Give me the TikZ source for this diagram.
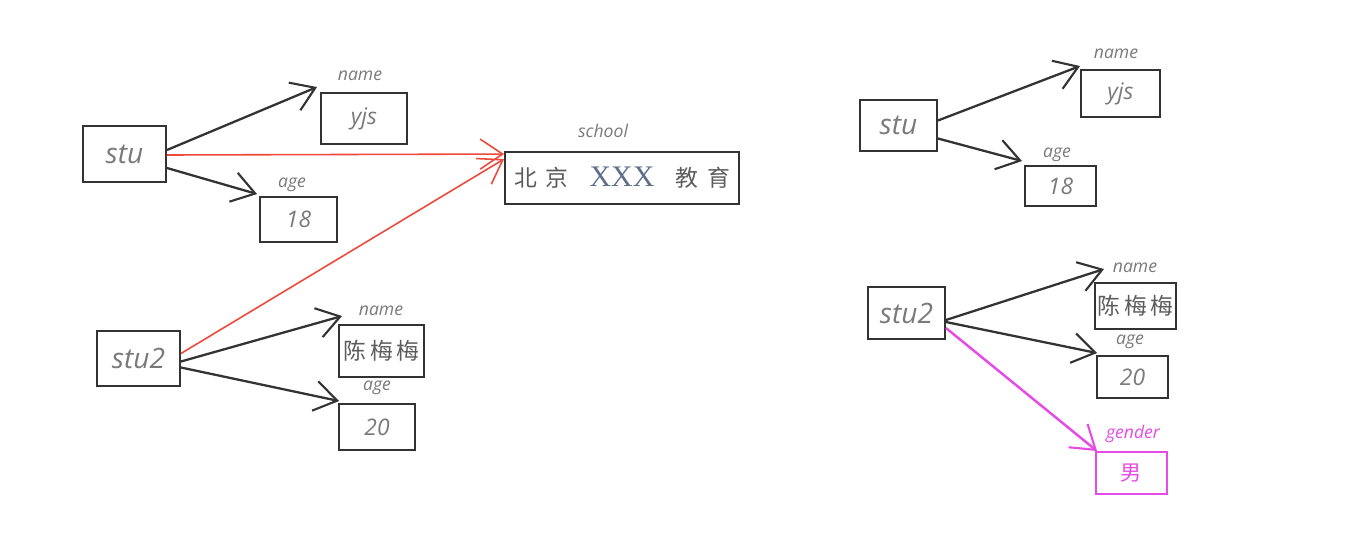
\documentclass[tikz,border=0pt]{standalone}
\usepackage{fontspec}
\newfontfamily\hand{Open Sans}
\newfontfamily\cjk{Noto Sans CJK SC}
\newfontfamily\serifx{Liberation Serif}
\usetikzlibrary{arrows.meta}
\definecolor{txtgray}{HTML}{7A7A7A}
\definecolor{linegray}{HTML}{333333}
\definecolor{redl}{HTML}{F0483A}
\definecolor{mag}{HTML}{E64BE6}
\definecolor{xxxblue}{HTML}{5F6F8A}
\tikzset{
  box/.style={draw=linegray, line width=1.1pt, rectangle, inner sep=0pt, font=\hand\itshape\fontsize{13}{15}\selectfont, text=txtgray},
  bigbox/.style={box, font=\hand\itshape\fontsize{16}{18}\selectfont},
  cjkbox/.style={box, font=\cjk\fontsize{13}{15}\selectfont, text=linegray!80},
  lbl/.style={font=\hand\itshape\fontsize{10}{12}\selectfont, text=txtgray, inner sep=0pt},
  arr/.style={draw=linegray, line width=1.3pt, -{Straight Barb[length=4.5mm,width=6mm,line width=1.2pt]}},
  redarr/.style={draw=redl, line width=0.9pt, -{Straight Barb[length=4.5mm,width=6mm,line width=0.9pt]}},
  magarr/.style={draw=mag, line width=1.4pt, -{Straight Barb[length=4.5mm,width=6mm,line width=1.2pt]}}
}
\newcommand{\cs}{\hspace{2pt}}
\begin{document}
\begin{tikzpicture}[x=0.02cm,y=-0.02cm]
\useasboundingbox[fill=white] (0,0) rectangle (1350,535);

% ---------- left group ----------
\node[bigbox, minimum width=1.66cm, minimum height=1.12cm] (stuA) at (124.5,154) {stu};
\node[box, minimum width=1.72cm, minimum height=1.02cm] (nameA) at (364,118.5) {yjs};
\node[box, minimum width=1.54cm, minimum height=0.9cm] (ageA) at (298.5,219.5) {18};
\node[box, minimum width=4.68cm, minimum height=1.04cm, font=\cjk\fontsize{13}{15}\selectfont, text=linegray!80] (school) at (622,178) {北\hspace{5pt}京\hspace{12pt}{\serifx\fontsize{17}{19}\selectfont\color{xxxblue}XXX}\hspace{12pt}教\hspace{5pt}育};
\node[bigbox, minimum width=1.66cm, minimum height=1.1cm] (stu2A) at (138.5,358.5) {stu2};
\node[cjkbox, minimum width=1.7cm, minimum height=1.04cm] (cmmA) at (381.5,351) {陈\cs 梅\cs 梅};
\node[box, minimum width=1.52cm, minimum height=0.92cm] (ageA2) at (377,427) {20};

\node[lbl] (lnA) at (360,76) {name};
\node[lbl] (laA) at (292,185) {age};
\node[lbl] (lsch) at (603,131) {school};
\node[lbl] (lnA2) at (381,311) {name};
\node[lbl] (laA2) at (377,388) {age};

\draw[arr] ([yshift=4*0.02cm]stuA.east) -- ([shift={(-3,-5)}]nameA.north west);
\draw[arr] ([yshift=-14*0.02cm]stuA.east) -- ([shift={(-2,-2)}]ageA.north west);
\draw[redarr] ([yshift=-1*0.02cm]stuA.east) -- ([shift={(0,3)}]school.north west);
\draw[redarr] ([yshift=5*0.02cm]stu2A.east) -- ([shift={(0,8)}]school.north west);
\draw[arr] ([yshift=-3*0.02cm]stu2A.east) -- ([shift={(4,-8)}]cmmA.north west);
\draw[arr] ([yshift=-9*0.02cm]stu2A.east) -- ([shift={(1,-2)}]ageA2.north west);

% ---------- right group ----------
\node[bigbox, minimum width=1.54cm, minimum height=1.02cm] (stuB) at (898.5,125.5) {stu};
\node[box, minimum width=1.58cm, minimum height=0.94cm] (nameB) at (1120.5,93.5) {yjs};
\node[box, minimum width=1.42cm, minimum height=0.8cm] (ageB) at (1060.5,186) {18};
\node[bigbox, minimum width=1.54cm, minimum height=1.04cm] (stu2B) at (906.5,313) {stu2};
\node[cjkbox, minimum width=1.62cm, minimum height=0.92cm] (cmmB) at (1135.5,306) {陈\cs 梅\cs 梅};
\node[box, minimum width=1.42cm, minimum height=0.84cm] (ageB2) at (1132.5,377) {20};
\node[box, draw=mag, text=mag, font=\cjk\fontsize{12}{14}\selectfont, minimum width=1.42cm, minimum height=0.84cm] (gen) at (1131.5,473) {男};

\node[lbl] (lnB) at (1116,54) {name};
\node[lbl] (laB) at (1057,155) {age};
\node[lbl] (lnB2) at (1135,268) {name};
\node[lbl] (laB2) at (1130,342) {age};
\node[lbl, text=mag] (lgen) at (1133,434) {gender};

\draw[arr] ([yshift=5*0.02cm]stuB.east) -- ([shift={(0,-3)}]nameB.north west);
\draw[arr] ([yshift=-13*0.02cm]stuB.east) -- ([shift={(-2,-4)}]ageB.north west);
\draw[arr] ([yshift=-7*0.02cm]stu2B.east) -- ([shift={(10,-13)}]cmmB.north west);
\draw[arr] ([yshift=-9*0.02cm]stu2B.east) -- ([shift={(1,-2)}]ageB2.north west);
\draw[magarr] ([yshift=-15*0.02cm]stu2B.east) -- ([shift={(2,0)}]gen.north west);
\end{tikzpicture}
\end{document}
